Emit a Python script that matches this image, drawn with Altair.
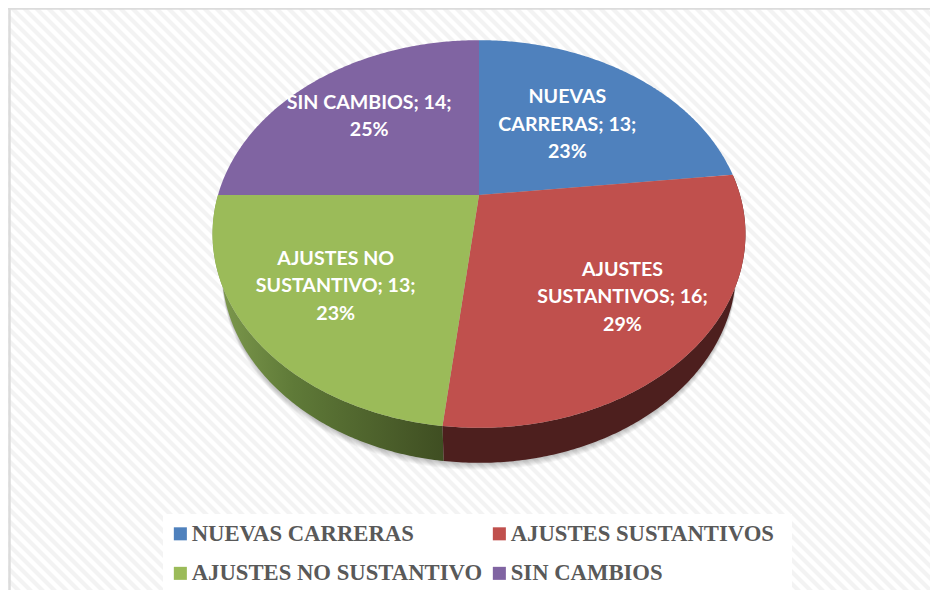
import math
import altair as alt
import pandas as pd

categories = ["NUEVAS CARRERAS", "AJUSTES SUSTANTIVOS", "AJUSTES NO SUSTANTIVO", "SIN CAMBIOS"]
values = [13, 16, 13, 14]
label_texts = ["NUEVAS\nCARRERAS; 13;\n23%", "AJUSTES\nSUSTANTIVOS; 16;\n29%",
               "AJUSTES NO\nSUSTANTIVO; 13;\n23%", "SIN CAMBIOS; 14;\n25%"]
face_colors = ["#4f81bd", "#c0504d", "#9bbb59", "#8064a2"]
label_radius = [0.55, 0.70, 0.67, 0.65]

W, H = 922, 582
APEX = (471, 187)          # slice apex inside the plot
A, B, K = 261.0, 186.0, 0.2012   # perspective of the tilted disc
DEPTH = 35
BASE_SCALE = 0.965         # the lower rim is narrower in perspective
LINE_HEIGHT = 27.5


def project(angle, r=1.0):
    u, v = r * math.sin(angle), r * math.cos(angle)
    w = 1 + K * v
    return [A * u / w, B * v / w]


def arc(a0, a1, dy=0, sx=1.0):
    n = max(2, int(abs(a1 - a0) / 0.01))
    pts = []
    for i in range(n + 1):
        x, y = project(a0 + (a1 - a0) * i / n)
        pts.append([x * sx, y - dy])
    return pts


def feature(coords, name, kind="Polygon"):
    return {"type": "Feature", "properties": {"name": name},
            "geometry": {"type": kind, "coordinates": coords}}


def geo(features):
    return alt.InlineData(values={"type": "FeatureCollection", "features": features},
                          format=alt.DataFormat(property="features", type="json"))


proj = dict(type="identity", reflectY=True, scale=1, translate=list(APEX))

total = sum(values)
edges = [0.0]
for v in values:
    edges.append(edges[-1] + v / total * 2 * math.pi)

faces = [feature([[[0, 0]] + arc(edges[i], edges[i + 1]) + [[0, 0]]], categories[i]) for i in range(4)]


def wall(a0, a1, name):
    top = arc(a0, a1)
    low = arc(a1, a0, DEPTH, BASE_SCALE)
    return feature([top + low + [top[0]]], name)


wall_red = wall(edges[1], edges[2], categories[1])
wall_green = wall(edges[2], edges[3], categories[2])

full = arc(0, 2 * math.pi)
shadows = []
for d in range(DEPTH + 1, DEPTH + 8):
    shadows.append(feature([[[x * BASE_SCALE, y - d] for x, y in full]], "shadow"))

# diagonal background stripes
stripes = []
for s in range(-700, 1600, 12):
    stripes.append([[s - APEX[0], APEX[1] + 20], [s + 640 - APEX[0], APEX[1] - 620]])

frame = [[[-APEX[0] + 1.5, APEX[1] + 1], [-APEX[0] + 1.5, APEX[1] - H]],
         [[-APEX[0], APEX[1] - 0.5], [W, APEX[1] - 0.5]]]

# white panel behind the legend
bx0, bx1, by0, by1 = 155 - APEX[0], 784 - APEX[0], APEX[1] - 506, APEX[1] - 582
legend_box = [[[bx0, by0], [bx1, by0], [bx1, by1], [bx0, by1], [bx0, by0]]]

stripe_layer = alt.Chart(geo([feature(stripes, "stripes", "MultiLineString")])).mark_geoshape(
    filled=False, stroke="#f3f3f3", strokeWidth=4.2).project(**proj)
frame_layer = alt.Chart(geo([feature(frame, "frame", "MultiLineString")])).mark_geoshape(
    filled=False, stroke="#dcdcdc", strokeWidth=2.5).project(**proj)
box_layer = alt.Chart(geo([feature(legend_box, "legend box")])).mark_geoshape(
    fill="#ffffff", strokeWidth=0).project(**proj)
shadow_layer = alt.Chart(geo(shadows)).mark_geoshape(
    fill="#000000", fillOpacity=0.035, strokeWidth=0).project(**proj)
green_wall = alt.Chart(geo([wall_green])).mark_geoshape(
    strokeWidth=0,
    fill=alt.LinearGradient(gradient="linear", x1=0, x2=1, y1=0, y2=0, stops=[
        alt.GradientStop(color="#7f9b4e", offset=0),
        alt.GradientStop(color="#5f7a38", offset=0.35),
        alt.GradientStop(color="#3f4e22", offset=1)])).project(**proj)
red_wall = alt.Chart(geo([wall_red])).mark_geoshape(fill="#4d1f1e", strokeWidth=0).project(**proj)

face_layer = alt.Chart(geo(faces)).mark_geoshape(strokeWidth=0).encode(
    color=alt.Color("properties.name:N",
                    scale=alt.Scale(domain=categories, range=face_colors),
                    sort=categories,
                    legend=alt.Legend(
                        title=None, orient="none", legendX=148, legendY=506,
                        direction="horizontal", columns=2, padding=8,
                        symbolType="square", symbolSize=170,
                        symbolOffset=5, symbolStrokeWidth=0, labelFont="Liberation Serif",
                        labelFontSize=22.7, labelFontWeight="bold", labelColor="#595959",
                        labelOffset=0, rowPadding=16, columnPadding=0,
                        labelLimit=400))
).project(**proj)

rows = []
for i in range(4):
    mid = (edges[i] + edges[i + 1]) / 2
    x, y = project(mid, label_radius[i])
    extra = label_texts[i].count("\n")
    rows.append({"lon": x, "lat": y + extra / 2 * LINE_HEIGHT, "label": label_texts[i]})
labels = pd.DataFrame(rows)

label_layer = alt.Chart(labels).mark_text(
    font="Lato", fontSize=19.6, fontWeight="bold", color="#ffffff",
    lineBreak="\n", lineHeight=LINE_HEIGHT, align="center", baseline="middle"
).encode(longitude="lon:Q", latitude="lat:Q", text="label:N").project(**proj)

chart = alt.layer(stripe_layer, frame_layer, box_layer, shadow_layer, green_wall, red_wall,
                  face_layer, label_layer).properties(
    width=W, height=H, padding=0, background="#ffffff",
    autosize=alt.AutoSizeParams(type="none")
).configure_view(stroke=None)

chart.save("out.html", embed_options={"renderer": "svg", "actions": False})
